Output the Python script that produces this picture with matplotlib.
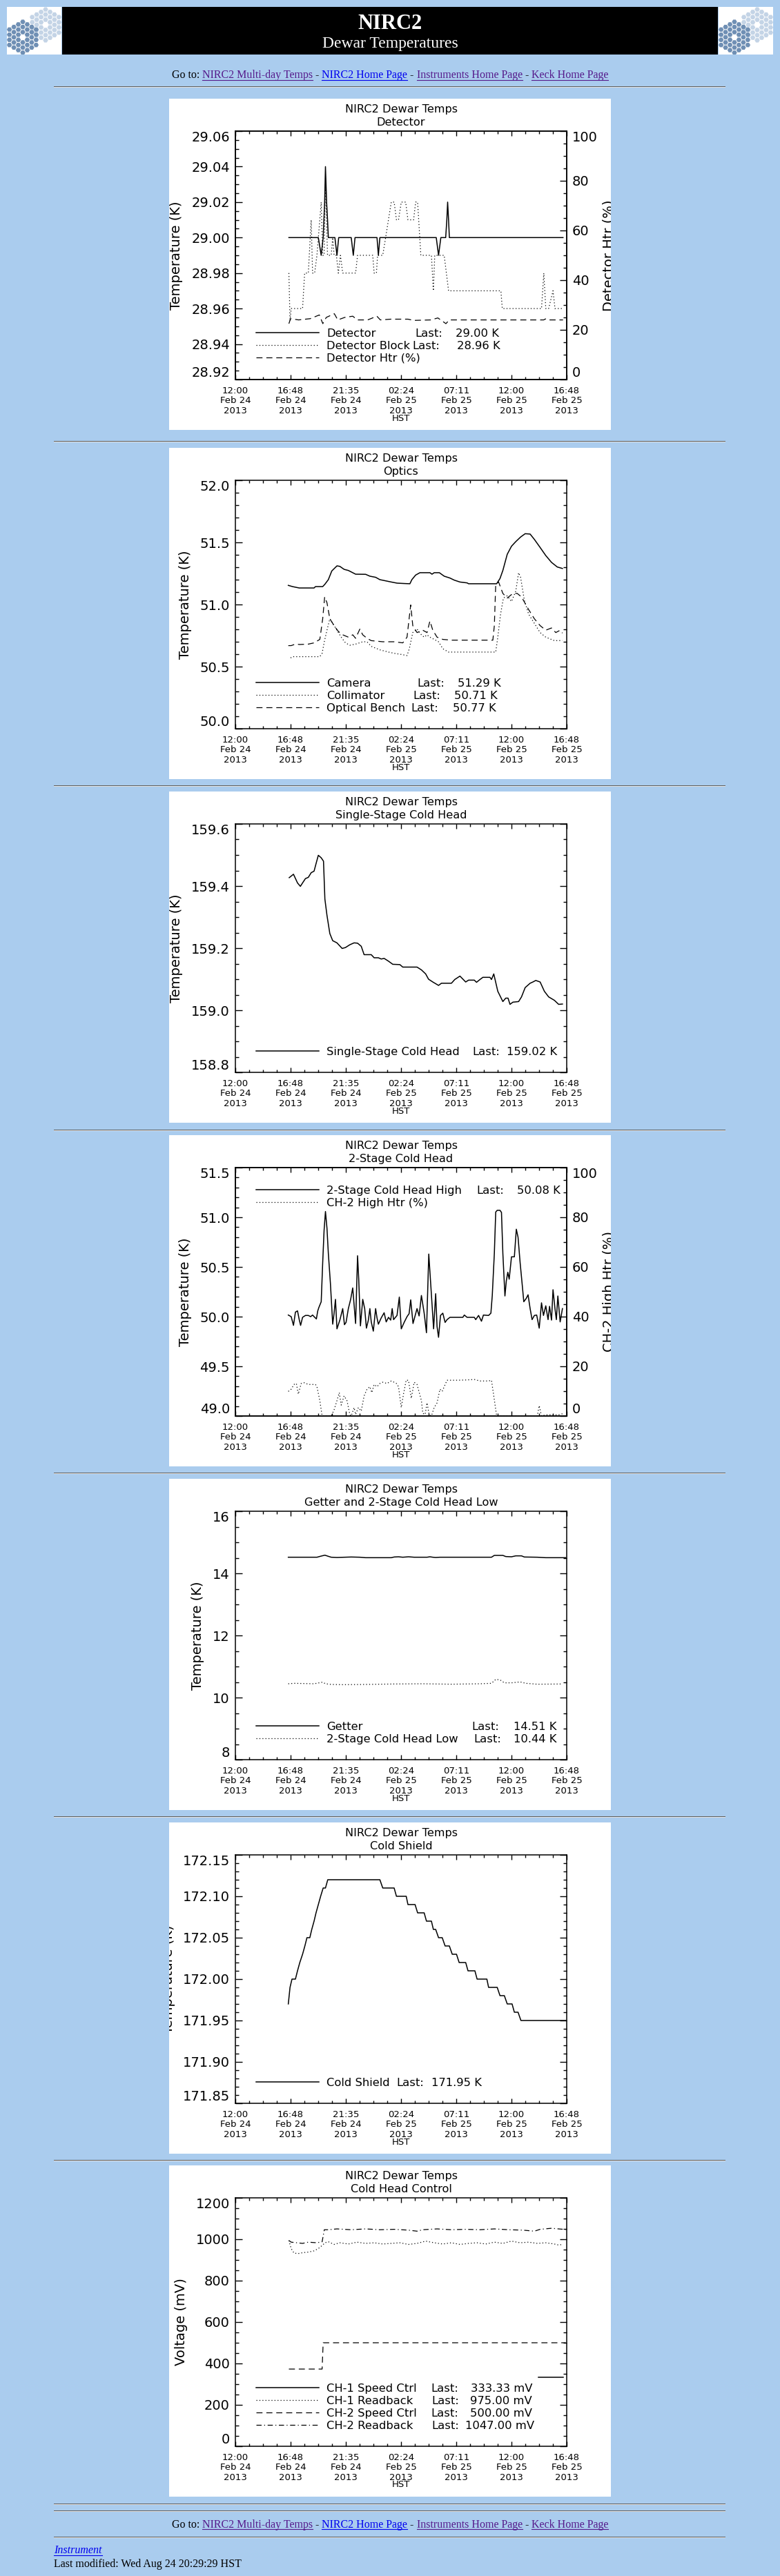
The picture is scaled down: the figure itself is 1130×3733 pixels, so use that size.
import numpy as np
import matplotlib
matplotlib.use("Agg")
import matplotlib.pyplot as plt
from matplotlib.patches import Rectangle, RegularPolygon
from matplotlib.lines import Line2D
from matplotlib.ticker import MultipleLocator

plt.rcParams["font.family"] = ["DejaVu Sans"]

# ---------------- time axis: hours after 12:00 HST Feb 24 2013 ----------------
xtick_hours = [0.0, 4.8, 9.6, 14.4, 19.2, 24.0, 28.8]
xtick_labels = ["12:00\nFeb 24\n2013", "16:48\nFeb 24\n2013", "21:35\nFeb 24\n2013",
                "02:24\nFeb 25\n2013", "07:11\nFeb 25\n2013", "12:00\nFeb 25\n2013",
                "16:48\nFeb 25\n2013"]
htr_ticks = [0, 20, 40, 60, 80, 100]

# ---------------- Panel 1: Detector ----------------
p1_yticks = [28.92, 28.94, 28.96, 28.98, 29.00, 29.02, 29.04, 29.06]
detector = [(4.65, 29.00), (7.21, 29.00), (7.46, 28.99), (7.63, 29.00), (7.76, 29.02), (7.83, 29.04),
            (7.93, 29.02), (8.01, 29.01), (8.08, 29.00), (8.65, 29.00), (8.83, 28.99), (8.98, 29.00),
            (10.07, 29.00), (10.25, 28.99), (10.40, 29.00), (12.31, 29.00), (12.43, 28.99), (12.56, 29.00),
            (17.46, 29.00), (17.66, 28.99), (17.86, 29.00), (18.28, 29.00), (18.38, 29.01), (18.45, 29.02),
            (18.53, 29.01), (18.60, 29.00), (28.48, 29.00)]
detector_block = [(4.65, 28.98), (4.75, 28.953), (4.85, 28.96), (5.84, 28.96), (6.02, 28.98), (6.34, 28.98),
                  (6.59, 29.01), (6.71, 28.98), (6.89, 28.98), (7.09, 28.99), (7.46, 29.02), (7.59, 28.99),
                  (7.71, 28.99), (7.83, 29.03), (8.01, 28.99), (8.33, 28.99), (8.46, 29.00), (8.58, 28.99),
                  (8.78, 28.99), (8.95, 28.98), (9.13, 28.99), (9.33, 28.98), (10.45, 28.98), (10.62, 28.99),
                  (11.94, 28.99), (12.06, 28.98), (12.26, 28.98), (12.36, 28.99), (12.81, 28.99), (13.06, 29.00),
                  (13.55, 29.02), (13.80, 29.02), (14.00, 29.01), (14.18, 29.01), (14.42, 29.02), (14.80, 29.02),
                  (15.00, 29.01), (15.49, 29.01), (15.67, 29.02), (15.84, 29.02), (16.12, 28.99), (17.04, 28.99),
                  (17.21, 28.97), (17.33, 28.99), (18.15, 28.99), (18.53, 28.97), (23.08, 28.97), (23.20, 28.96),
                  (26.61, 28.96), (26.81, 28.98), (26.98, 28.96), (27.23, 28.96), (27.61, 28.97), (27.78, 28.96),
                  (28.48, 28.96)]
detector_htr = [(4.65, 22.5), (4.80, 24.5), (5.50, 24.0), (6.50, 24.5), (7.30, 26.0), (7.60, 22.5),
                (7.90, 25.0), (8.60, 26.5), (8.90, 24.0), (9.50, 25.0), (10.20, 25.5), (10.60, 24.0),
                (11.50, 24.0), (12.30, 25.5), (12.60, 24.0), (13.50, 24.3), (15.00, 24.3), (15.50, 23.8),
                (17.00, 24.0), (17.60, 24.8), (18.30, 22.5), (18.60, 24.0), (26.80, 24.0), (27.00, 24.5),
                (27.30, 24.0), (28.48, 24.0)]

# ---------------- Panel 2: Optics ----------------
p2_yticks = [50.0, 50.5, 51.0, 51.5, 52.0]
camera = [(4.60, 51.154), (4.97, 51.144), (5.55, 51.133), (6.84, 51.133), (6.96, 51.144), (7.59, 51.144),
          (7.78, 51.163), (8.08, 51.200), (8.38, 51.270), (8.83, 51.311), (9.08, 51.307), (9.45, 51.283),
          (9.82, 51.274), (10.20, 51.256), (10.45, 51.244), (11.32, 51.243), (11.69, 51.228), (12.19, 51.219),
          (12.56, 51.200), (12.93, 51.193), (13.55, 51.181), (14.05, 51.172), (14.67, 51.169), (15.17, 51.167),
          (15.34, 51.200), (15.67, 51.237), (16.04, 51.256), (16.91, 51.256), (17.09, 51.244), (17.28, 51.256),
          (17.73, 51.256), (18.15, 51.228), (18.65, 51.213), (19.03, 51.196), (19.52, 51.181), (20.14, 51.174),
          (20.27, 51.167), (22.71, 51.167), (23.00, 51.209), (23.25, 51.274), (23.63, 51.404), (24.00, 51.469),
          (24.37, 51.506), (24.79, 51.543), (25.19, 51.570), (25.62, 51.567), (25.99, 51.524), (26.49, 51.459),
          (26.98, 51.394), (27.48, 51.339), (27.98, 51.302), (28.43, 51.290)]
collimator = [(4.80, 50.570), (4.97, 50.580), (7.34, 50.580), (7.54, 50.607), (7.73, 50.700), (7.96, 50.793),
              (8.21, 50.885), (8.46, 50.848), (8.83, 50.793), (9.20, 50.737), (9.57, 50.691), (9.95, 50.672),
              (10.45, 50.681), (11.07, 50.700), (11.44, 50.700), (11.81, 50.663), (12.56, 50.635), (13.31, 50.617),
              (13.80, 50.607), (14.42, 50.598), (14.92, 50.589), (15.12, 50.644), (15.42, 50.774), (15.79, 50.802),
              (16.17, 50.756), (16.41, 50.737), (16.66, 50.756), (16.91, 50.737), (17.28, 50.719), (17.66, 50.700),
              (18.03, 50.644), (18.53, 50.617), (22.63, 50.617), (22.81, 50.737), (23.05, 50.922), (23.30, 51.052),
              (23.63, 51.070), (24.00, 51.024), (24.37, 51.107), (24.62, 51.256), (24.79, 51.219), (25.12, 51.033),
              (25.49, 50.922), (25.99, 50.848), (26.49, 50.774), (26.98, 50.737), (27.73, 50.709), (28.43, 50.710)]
optical_bench = [(4.60, 50.669), (4.85, 50.669), (5.22, 50.681), (5.60, 50.678), (6.34, 50.681), (6.84, 50.691),
                 (7.34, 50.719), (7.59, 50.885), (7.76, 51.061), (7.96, 51.015), (8.21, 50.885), (8.58, 50.830),
                 (8.95, 50.783), (9.33, 50.756), (9.82, 50.737), (10.20, 50.756), (10.45, 50.728), (10.82, 50.802),
                 (11.07, 50.756), (11.44, 50.728), (11.81, 50.709), (12.81, 50.700), (13.80, 50.700), (14.55, 50.691),
                 (14.92, 50.737), (15.10, 50.885), (15.24, 50.996), (15.42, 50.830), (15.79, 50.774), (16.29, 50.793),
                 (16.66, 50.774), (16.91, 50.867), (17.16, 50.793), (17.53, 50.737), (18.03, 50.719), (18.78, 50.713),
                 (22.38, 50.713), (22.51, 50.830), (22.63, 51.163), (22.88, 51.181), (23.25, 51.089), (23.63, 51.052),
                 (24.12, 51.089), (24.50, 51.089), (24.87, 51.061), (25.49, 50.959), (25.99, 50.885), (26.49, 50.830),
                 (26.98, 50.793), (27.48, 50.811), (27.85, 50.774), (28.23, 50.793), (28.43, 50.770)]

# ---------------- Panel 3: Single-Stage Cold Head ----------------
p3_yticks = [158.8, 159.0, 159.2, 159.4, 159.6]
single_stage = [(4.68, 159.427), (5.05, 159.438), (5.40, 159.410), (5.65, 159.399), (5.84, 159.410), (6.09, 159.424),
                (6.34, 159.428), (6.59, 159.443), (6.84, 159.448), (7.04, 159.476), (7.21, 159.499), (7.46, 159.491),
                (7.66, 159.480), (7.78, 159.358), (7.96, 159.306), (8.21, 159.247), (8.46, 159.224), (8.83, 159.217),
                (9.28, 159.199), (9.57, 159.202), (9.95, 159.211), (10.32, 159.217), (10.62, 159.216), (10.94, 159.206),
                (11.19, 159.179), (11.81, 159.179), (12.06, 159.169), (12.43, 159.169), (12.68, 159.165), (12.93, 159.167),
                (13.31, 159.158), (13.68, 159.148), (14.30, 159.147), (14.55, 159.139), (15.79, 159.139), (16.17, 159.130),
                (16.54, 159.117), (16.79, 159.100), (17.16, 159.091), (17.66, 159.080), (17.91, 159.087), (18.78, 159.087),
                (19.07, 159.099), (19.52, 159.110), (20.02, 159.091), (20.27, 159.097), (20.77, 159.097), (20.96, 159.090),
                (21.26, 159.099), (21.51, 159.106), (22.13, 159.106), (22.26, 159.099), (22.46, 159.117), (22.81, 159.061),
                (23.25, 159.028), (23.50, 159.039), (23.70, 159.039), (23.87, 159.019), (24.12, 159.026), (24.62, 159.028),
                (24.87, 159.043), (25.19, 159.073), (25.62, 159.087), (25.86, 159.091), (26.11, 159.096), (26.49, 159.091),
                (26.86, 159.061), (27.23, 159.043), (27.73, 159.032), (28.10, 159.019), (28.43, 159.020)]

# ---------------- Panel 4: 2-Stage Cold Head ----------------
p4_yticks = [49.0, 49.5, 50.0, 50.5, 51.0, 51.5]
two_stage_high = [(4.60, 50.016), (4.85, 50.000), (5.05, 49.912), (5.22, 50.046), (5.40, 50.058), (5.55, 49.970),
                  (5.67, 49.912), (5.84, 49.993), (6.09, 50.012), (6.34, 50.012), (6.54, 50.000), (6.71, 50.016),
                  (6.84, 50.000), (7.04, 49.977), (7.16, 50.058), (7.26, 50.093), (7.46, 50.150), (7.59, 50.544),
                  (7.71, 50.868), (7.83, 51.058), (7.96, 50.891), (8.08, 50.637), (8.26, 50.336), (8.46, 49.924),
                  (8.58, 50.035), (8.70, 50.174), (8.83, 49.877), (9.08, 49.965), (9.33, 50.081), (9.48, 49.919),
                  (9.62, 49.942), (9.82, 50.081), (10.02, 50.174), (10.20, 50.289), (10.45, 49.931), (10.62, 50.613),
                  (10.72, 50.382), (10.87, 49.907), (11.07, 50.174), (11.24, 50.081), (11.39, 49.884), (11.56, 49.965),
                  (11.69, 50.081), (11.81, 49.947), (11.99, 49.854), (12.19, 50.081), (12.31, 49.988), (12.43, 49.924),
                  (12.68, 49.988), (12.93, 50.039), (13.11, 49.947), (13.31, 49.993), (13.50, 49.965), (13.63, 50.081),
                  (13.75, 49.970), (14.05, 50.012), (14.25, 50.197), (14.42, 49.877), (14.67, 49.942), (14.92, 50.000),
                  (15.10, 50.030), (15.24, 50.169), (15.44, 49.931), (15.79, 50.081), (15.97, 50.007), (16.17, 50.213),
                  (16.41, 50.035), (16.61, 49.838), (16.81, 50.630), (17.04, 50.220), (17.23, 49.877), (17.41, 50.231),
                  (17.53, 49.900), (17.66, 49.792), (17.83, 50.012), (18.03, 50.035), (18.23, 49.942), (18.40, 49.970),
                  (18.65, 49.993), (19.77, 49.993), (19.90, 50.016), (20.14, 49.993), (20.77, 49.993), (20.89, 49.970),
                  (21.14, 50.012), (21.39, 49.954), (21.56, 50.016), (22.01, 50.012), (22.21, 50.035), (22.33, 50.213),
                  (22.51, 50.637), (22.63, 51.053), (22.76, 51.070), (23.00, 51.070), (23.13, 51.049), (23.25, 50.637),
                  (23.43, 50.208), (23.55, 50.359), (23.68, 50.447), (23.80, 50.377), (24.00, 50.602), (24.25, 50.602),
                  (24.42, 50.880), (24.57, 50.799), (24.75, 50.544), (24.94, 50.312), (25.07, 50.150), (25.29, 50.185),
                  (25.44, 50.220), (25.62, 50.081), (25.79, 49.970), (25.99, 50.012), (26.19, 50.016), (26.41, 49.884),
                  (26.61, 50.139), (26.78, 50.012), (26.98, 50.109), (27.18, 49.970), (27.31, 50.104), (27.48, 49.965),
                  (27.61, 50.271), (27.78, 50.081), (27.90, 49.970), (28.03, 50.208), (28.23, 49.947), (28.43, 50.081)]
ch2_high_htr = [(4.60, 9.9), (4.85, 10.8), (5.10, 12.7), (5.30, 13.1), (5.47, 8.8), (5.72, 13.1), (5.97, 13.4),
                (6.34, 12.7), (6.96, 12.7), (7.09, 11.8), (7.34, 6.2), (7.54, 0.0), (8.33, 0.0), (8.58, 2.5),
                (8.83, 6.2), (9.03, 9.4), (9.20, 4.4), (9.45, 8.1), (9.70, 6.2), (9.95, 0.6), (10.07, 0.0),
                (10.32, 3.4), (10.45, 0.6), (10.69, 3.4), (10.94, 2.0), (11.19, 8.1), (11.44, 10.8), (11.69, 11.8),
                (11.86, 9.4), (12.06, 12.7), (12.31, 11.8), (12.56, 13.1), (12.81, 13.6), (13.18, 13.1), (13.55, 14.1),
                (13.80, 13.6), (14.00, 13.1), (14.18, 11.8), (14.42, 3.4), (14.62, 9.0), (14.85, 14.5), (15.05, 14.3),
                (15.29, 7.1), (15.54, 13.6), (15.79, 12.7), (16.17, 6.2), (16.29, 1.1), (16.49, 0.6), (16.66, 5.3),
                (16.84, 0.6), (17.04, 0.0), (17.28, 3.4), (17.53, 5.3), (17.78, 10.8), (17.98, 9.9), (18.15, 11.8),
                (18.40, 14.4), (19.27, 14.4), (20.02, 14.5), (20.77, 14.7), (21.26, 14.1), (22.01, 14.1), (22.26, 14.4),
                (22.46, 8.1), (22.71, 0.0), (26.24, 0.0), (26.41, 4.2), (26.61, 0.0), (26.98, 0.5), (28.10, 0.5),
                (28.43, 0.9)]

# ---------------- Panel 5: Getter and 2-Stage Cold Head Low ----------------
p5_yticks = [8, 10, 12, 14, 16]
getter = [(4.60, 14.519), (7.09, 14.519), (7.46, 14.556), (7.78, 14.585), (8.08, 14.548), (8.33, 14.519),
          (8.83, 14.511), (10.07, 14.526), (10.82, 14.519), (11.32, 14.504), (13.55, 14.504), (13.80, 14.526),
          (14.18, 14.533), (14.55, 14.519), (15.05, 14.533), (15.54, 14.519), (16.66, 14.519), (16.91, 14.533),
          (17.16, 14.519), (17.41, 14.511), (17.78, 14.519), (22.26, 14.519), (22.51, 14.578), (23.25, 14.578),
          (23.50, 14.541), (24.00, 14.533), (24.37, 14.563), (24.87, 14.563), (25.12, 14.526), (26.24, 14.519),
          (26.98, 14.504), (28.72, 14.504)]
two_stage_low = [(4.60, 10.444), (5.10, 10.459), (6.84, 10.444), (7.59, 10.496), (7.83, 10.444), (8.33, 10.422),
                 (9.33, 10.415), (11.32, 10.422), (13.80, 10.437), (16.29, 10.444), (18.78, 10.430), (21.26, 10.444),
                 (22.26, 10.459), (22.63, 10.585), (23.00, 10.570), (23.38, 10.474), (24.00, 10.474), (24.75, 10.504),
                 (25.24, 10.459), (26.24, 10.430), (28.43, 10.437)]

# ---------------- Panel 6: Cold Shield ----------------
p6_yticks = [171.85, 171.90, 171.95, 172.00, 172.05, 172.10, 172.15]
cold_shield = [(4.60, 171.97), (4.75, 171.99), (4.92, 172.00), (5.22, 172.00), (5.40, 172.01), (5.60, 172.02),
               (5.84, 172.03), (6.04, 172.04), (6.22, 172.05), (6.47, 172.05), (6.64, 172.06), (6.84, 172.07),
               (7.01, 172.08), (7.21, 172.09), (7.41, 172.10), (7.63, 172.11), (7.83, 172.11), (8.03, 172.12),
               (12.56, 172.12), (12.81, 172.11), (13.80, 172.11), (14.00, 172.10), (14.85, 172.10), (15.00, 172.09),
               (15.62, 172.09), (15.84, 172.08), (16.41, 172.08), (16.61, 172.07), (17.04, 172.07), (17.21, 172.06),
               (17.41, 172.06), (17.66, 172.05), (17.98, 172.05), (18.23, 172.04), (18.60, 172.04), (18.85, 172.03),
               (19.22, 172.03), (19.45, 172.02), (20.02, 172.02), (20.22, 172.01), (20.82, 172.01), (21.01, 172.00),
               (21.86, 172.00), (22.01, 171.99), (22.76, 171.99), (23.00, 171.98), (23.38, 171.98), (23.63, 171.97),
               (24.05, 171.97), (24.25, 171.96), (24.57, 171.96), (24.82, 171.95), (28.43, 171.95), (28.72, 171.95)]

# ---------------- Panel 7: Cold Head Control ----------------
p7_yticks = [0, 200, 400, 600, 800, 1000, 1200]
ch1_speed = [(26.36, 333.33), (28.48, 333.33)]
ch1_readback = [(4.65, 994), (4.85, 955), (5.10, 933), (5.47, 931), (5.84, 935), (6.34, 938), (6.84, 944),
                (7.21, 955), (7.59, 972), (7.78, 983), (8.08, 988), (8.58, 975), (9.08, 983), (9.82, 977),
                (10.57, 986), (11.32, 980), (12.06, 983), (12.81, 977), (13.55, 980), (14.30, 983), (15.05, 975),
                (15.79, 980), (16.54, 991), (17.28, 983), (18.03, 977), (18.78, 983), (19.52, 975), (20.27, 980),
                (21.01, 983), (21.76, 977), (22.51, 986), (23.25, 980), (24.00, 991), (24.75, 983), (25.49, 986),
                (26.24, 980), (26.98, 983), (27.73, 977), (28.10, 972), (28.43, 975)]
ch2_speed = [(4.65, 373), (7.54, 373), (7.63, 500), (28.72, 500)]
ch2_readback = [(4.65, 994), (4.85, 986), (5.35, 983), (5.84, 980), (6.34, 986), (7.09, 983), (7.54, 988),
                (7.73, 1046), (8.08, 1046), (8.83, 1050), (10.07, 1046), (11.32, 1050), (12.56, 1046),
                (13.80, 1048), (15.05, 1044), (15.79, 1039), (16.29, 1046), (17.53, 1050), (18.78, 1046),
                (20.02, 1048), (21.26, 1046), (22.51, 1050), (23.75, 1046), (25.00, 1044), (25.99, 1039),
                (26.49, 1048), (27.48, 1053), (28.72, 1047)]

NAV = [("Go to: ", "black", False), ("NIRC2 Multi-day Temps", "#551A8B", True), (" - ", "black", False),
       ("NIRC2 Home Page", "#0000EE", True), (" - ", "black", False),
       ("Instruments Home Page", "#551A8B", True), (" - ", "black", False),
       ("Keck Home Page", "#551A8B", True)]

# ======================= layout =======================
W, H = 1130, 3733
BG = "#AACCEE"
fig = plt.figure(figsize=(W / 100, H / 100), dpi=100, facecolor=BG)


def fx(x):
    return x / W


def fy(y):
    return 1.0 - y / H


def frect(x0, y0, x1, y1, color, z=1):
    fig.add_artist(Rectangle((fx(x0), fy(y1)), (x1 - x0) / W, (y1 - y0) / H,
                             transform=fig.transFigure, facecolor=color, edgecolor="none", zorder=z))


def hr(y):
    frect(78, y, 1051, y + 1, "#5E5E5E")
    frect(78, y + 1, 1051, y + 2, "#E2E2E2")


# ---- header ----
frect(90, 10, 1040, 79, "black")


def logo(x0):
    lax = fig.add_axes([fx(x0), fy(79), 79 / W, 69 / H])
    lax.set_xlim(0, 79)
    lax.set_ylim(69, 0)
    lax.set_facecolor("white")
    lax.set_xticks([])
    lax.set_yticks([])
    for sp in lax.spines.values():
        sp.set_visible(False)
    s = 4.3
    for cx, cy, col in [(56, 26, "#C4D4E6"), (23, 44, "#6F8FB4")]:
        for q in range(-3, 4):
            for r in range(-3, 4):
                if max(abs(q), abs(r), abs(q + r)) > 3:
                    continue
                hx = cx + s * 1.5 * q
                hy = cy + s * np.sqrt(3) * (r + q / 2)
                c = "white" if (q == 0 and r == 0) else col
                lax.add_patch(RegularPolygon((hx, hy), 6, radius=s * 0.86, orientation=np.pi / 6,
                                             facecolor=c, edgecolor="none"))


logo(10)
logo(1041)
fig.text(fx(565), fy(41.5), "NIRC2", color="white", fontsize=22, fontweight="bold",
         family="Liberation Serif", ha="center", va="baseline")
fig.text(fx(565), fy(69.5), "Dewar Temperatures", color="white", fontsize=17,
         family="Liberation Serif", ha="center", va="baseline")

renderer = fig.canvas.get_renderer()


def text_w(s, **kw):
    if not s:
        return 0.0
    t1 = fig.text(0, 0, s + "|", **kw)
    w1 = t1.get_window_extent(renderer).width
    t1.remove()
    t2 = fig.text(0, 0, "|", **kw)
    w2 = t2.get_window_extent(renderer).width
    t2.remove()
    return w1 - w2


def nav(yb):
    kw = dict(family="Liberation Serif", fontsize=11.5)
    full = "".join(s for s, _, _ in NAV)
    x0 = 565 - text_w(full, **kw) / 2
    prefix = ""
    for s, col, link in NAV:
        xs = x0 + text_w(prefix, **kw)
        fig.text(fx(xs), fy(yb), s, color=col, ha="left", va="baseline", **kw)
        if link:
            w = text_w(s, **kw)
            fig.add_artist(Line2D([fx(xs), fx(xs + w)], [fy(yb + 2.5)] * 2, transform=fig.transFigure,
                                  color=col, lw=0.8))
        prefix += s


nav(113)
hr(125)

# ---- panels ----
LS = {"solid": "-", "dotted": (0, (1, 2.5)), "dashed": (0, (7, 4.5)), "dashdot": (0, (6, 3, 1, 3))}
LW = {"solid": 1.1, "dotted": 0.9, "dashed": 0.9, "dashdot": 0.9}
LEG_FS = 11.8


def panel(top, subtitle, ylim, yticks, yfmt, yminor, ylabel, ylabel_x, series, legend, right=None):
    rect = Rectangle((fx(245), fy(top + 480)), 640 / W, 480 / H, transform=fig.transFigure,
                     facecolor="white", edgecolor="none", zorder=-5)
    fig.add_artist(rect)
    ax = fig.add_axes([fx(245 + 96), fy(top + 407), 480 / W, 360 / H])
    ax.set_xlim(0, 28.8)
    ax.set_ylim(*ylim)
    ax.set_xticks(xtick_hours, xtick_labels)
    ax.xaxis.set_minor_locator(MultipleLocator(1.2))
    ax.set_yticks(yticks, [yfmt % v for v in yticks])
    ax.yaxis.set_minor_locator(MultipleLocator(yminor))
    ax.tick_params(which="both", direction="in", top=True, right=True, width=1.0, color="black")
    ax.tick_params(axis="x", which="major", length=5.0, labelsize=9.5, pad=7.0)
    ax.tick_params(axis="x", which="minor", length=2.9)
    ax.tick_params(axis="y", which="major", length=7.2, labelsize=14, pad=5.8)
    ax.tick_params(axis="y", which="minor", length=3.6)
    for sp in ax.spines.values():
        sp.set_linewidth(1.1)
    for lab in ax.get_xticklabels():
        lab.set_linespacing(1.15)
    ax.set_title("NIRC2 Dewar Temps\n" + subtitle, fontsize=11.6, pad=6.1, linespacing=1.27)
    ax.set_xlabel("HST", fontsize=9.5, va="center")
    ax.xaxis.set_label_coords(0.5, (407 - 463) / 360)
    ax.set_ylabel(ylabel, fontsize=14, va="center", ha="center")
    ax.yaxis.set_label_coords((ylabel_x - 96) / 480, 0.5)
    ax.yaxis.label.set_clip_path(rect)
    for data, style in series:
        t, v = np.array(data, dtype=float).T
        ax.plot(t, v, color="black", lw=LW[style], linestyle=LS[style])
    if right is not None:
        rlabel, rx, rseries = right
        ax2 = ax.twinx()
        ax2.set_ylim(0, 100)
        ax2.set_yticks(htr_ticks, [str(v) for v in htr_ticks])
        ax2.yaxis.set_minor_locator(MultipleLocator(5))
        ax2.tick_params(which="both", direction="in", width=1.0, color="black")
        ax2.tick_params(axis="y", which="major", length=7.2, labelsize=14, pad=5.8)
        ax2.tick_params(axis="y", which="minor", length=3.6)
        for sp in ax2.spines.values():
            sp.set_linewidth(1.1)
        ax2.set_ylabel(rlabel, fontsize=14, rotation=90, va="center", ha="center")
        ax2.yaxis.set_label_coords((rx - 96) / 480, 0.5)
        ax2.yaxis.label.set_clip_path(rect)
        for data, style in rseries:
            t, v = np.array(data, dtype=float).T
            ax2.plot(t, v, color="black", lw=LW[style], linestyle=LS[style])
        rt = ax2.yaxis.get_major_ticks()
        rt[0].label2.set_va("bottom")
        rt[-1].label2.set_va("top")
    yt = ax.yaxis.get_major_ticks()
    yt[0].label1.set_va("bottom")
    yt[-1].label1.set_va("top")
    for py, style, name, last_x, value, val_r in legend:
        yc = top + py
        fig.add_artist(Line2D([fx(245 + 126), fx(245 + 217)], [fy(yc), fy(yc)], transform=fig.transFigure,
                              color="black", lw=LW[style], linestyle=LS[style]))
        fig.text(fx(245 + 228), fy(yc + 5.8), name, fontsize=LEG_FS, ha="left", va="baseline")
        if last_x is not None:
            fig.text(fx(245 + last_x), fy(yc + 5.8), "Last:", fontsize=LEG_FS, ha="left", va="baseline")
            fig.text(fx(245 + val_r), fy(yc + 5.8), value, fontsize=LEG_FS, ha="right", va="baseline")
    return ax


TOPS = [143, 649, 1147, 1645, 2143, 2641, 3138]

panel(TOPS[0], "Detector", (28.92, 29.06), p1_yticks, "%.2f", 0.005, "Temperature (K)", 10.5,
      [(detector, "solid"), (detector_block, "dotted")],
      [(339, "solid", "Detector", 356, "29.00 K", 478),
       (357, "dotted", "Detector Block", 352, "28.96 K", 480),
       (375, "dashed", "Detector Htr (%)", None, None, None)],
      right=("Detector Htr (%)", 637, [(detector_htr, "dashed")]))

panel(TOPS[1], "Optics", (50.0, 52.0), p2_yticks, "%.1f", 0.1, "Temperature (K)", 24,
      [(camera, "solid"), (collimator, "dotted"), (optical_bench, "dashed")],
      [(340, "solid", "Camera", 359, "51.29 K", 481),
       (358, "dotted", "Collimator", 353, "50.71 K", 476),
       (376, "dashed", "Optical Bench", 350, "50.77 K", 474)])

panel(TOPS[2], "Single-Stage Cold Head", (158.8, 159.6), p3_yticks, "%.1f", 0.05, "Temperature (K)", 10.5,
      [(single_stage, "solid")],
      [(376, "solid", "Single-Stage Cold Head", 439, "159.02 K", 562)])

panel(TOPS[3], "2-Stage Cold Head", (49.0, 51.5), p4_yticks, "%.1f", 0.1, "Temperature (K)", 24,
      [(two_stage_high, "solid")],
      [(79, "solid", "2-Stage Cold Head High", 445, "50.08 K", 567),
       (97, "dotted", "CH-2 High Htr (%)", None, None, None)],
      right=("CH-2 High Htr (%)", 637, [(ch2_high_htr, "dotted")]))

panel(TOPS[4], "Getter and 2-Stage Cold Head Low", (8, 16), p5_yticks, "%d", 0.5, "Temperature (K)", 41.5,
      [(getter, "solid"), (two_stage_low, "dotted")],
      [(358, "solid", "Getter", 438, "14.51 K", 561),
       (376, "dotted", "2-Stage Cold Head Low", 441, "10.44 K", 561)])

panel(TOPS[5], "Cold Shield", (171.85, 172.15), p6_yticks, "%.2f", 0.01, "Temperature (K)", -1,
      [(cold_shield, "solid")],
      [(376, "solid", "Cold Shield", 329, "171.95 K", 453)])

panel(TOPS[6], "Cold Head Control", (0, 1200), p7_yticks, "%d", 50, "Voltage (mV)", 17,
      [(ch1_speed, "solid"), (ch1_readback, "dotted"), (ch2_speed, "dashed"), (ch2_readback, "dashdot")],
      [(322, "solid", "CH-1 Speed Ctrl", 379, "333.33 mV", 526),
       (340, "dotted", "CH-1 Readback", 380, "975.00 mV", 526),
       (358, "dashed", "CH-2 Speed Ctrl", 379, "500.00 mV", 526),
       (376, "dashdot", "CH-2 Readback", 380, "1047.00 mV", 529)])

for y in [639, 1138, 1637, 2134, 2632, 3130, 3628, 3638]:
    hr(y)

# ---- footer ----
nav(3662.7)
hr(3676)
fkw = dict(family="Liberation Serif", fontsize=11.5)
fig.text(fx(78), fy(3700.5), "Instrument", color="#0000EE", fontstyle="italic", ha="left", va="baseline", **fkw)
w_inst = text_w("Instrument", fontstyle="italic", **fkw)
fig.add_artist(Line2D([fx(78), fx(78 + w_inst)], [fy(3703)] * 2, transform=fig.transFigure, color="#0000EE", lw=0.8))
fig.text(fx(78), fy(3720), "Last modified: Wed Aug 24 20:29:29 HST", color="black", ha="left", va="baseline", **fkw)

fig.savefig("out.png", dpi=100, facecolor=BG)
